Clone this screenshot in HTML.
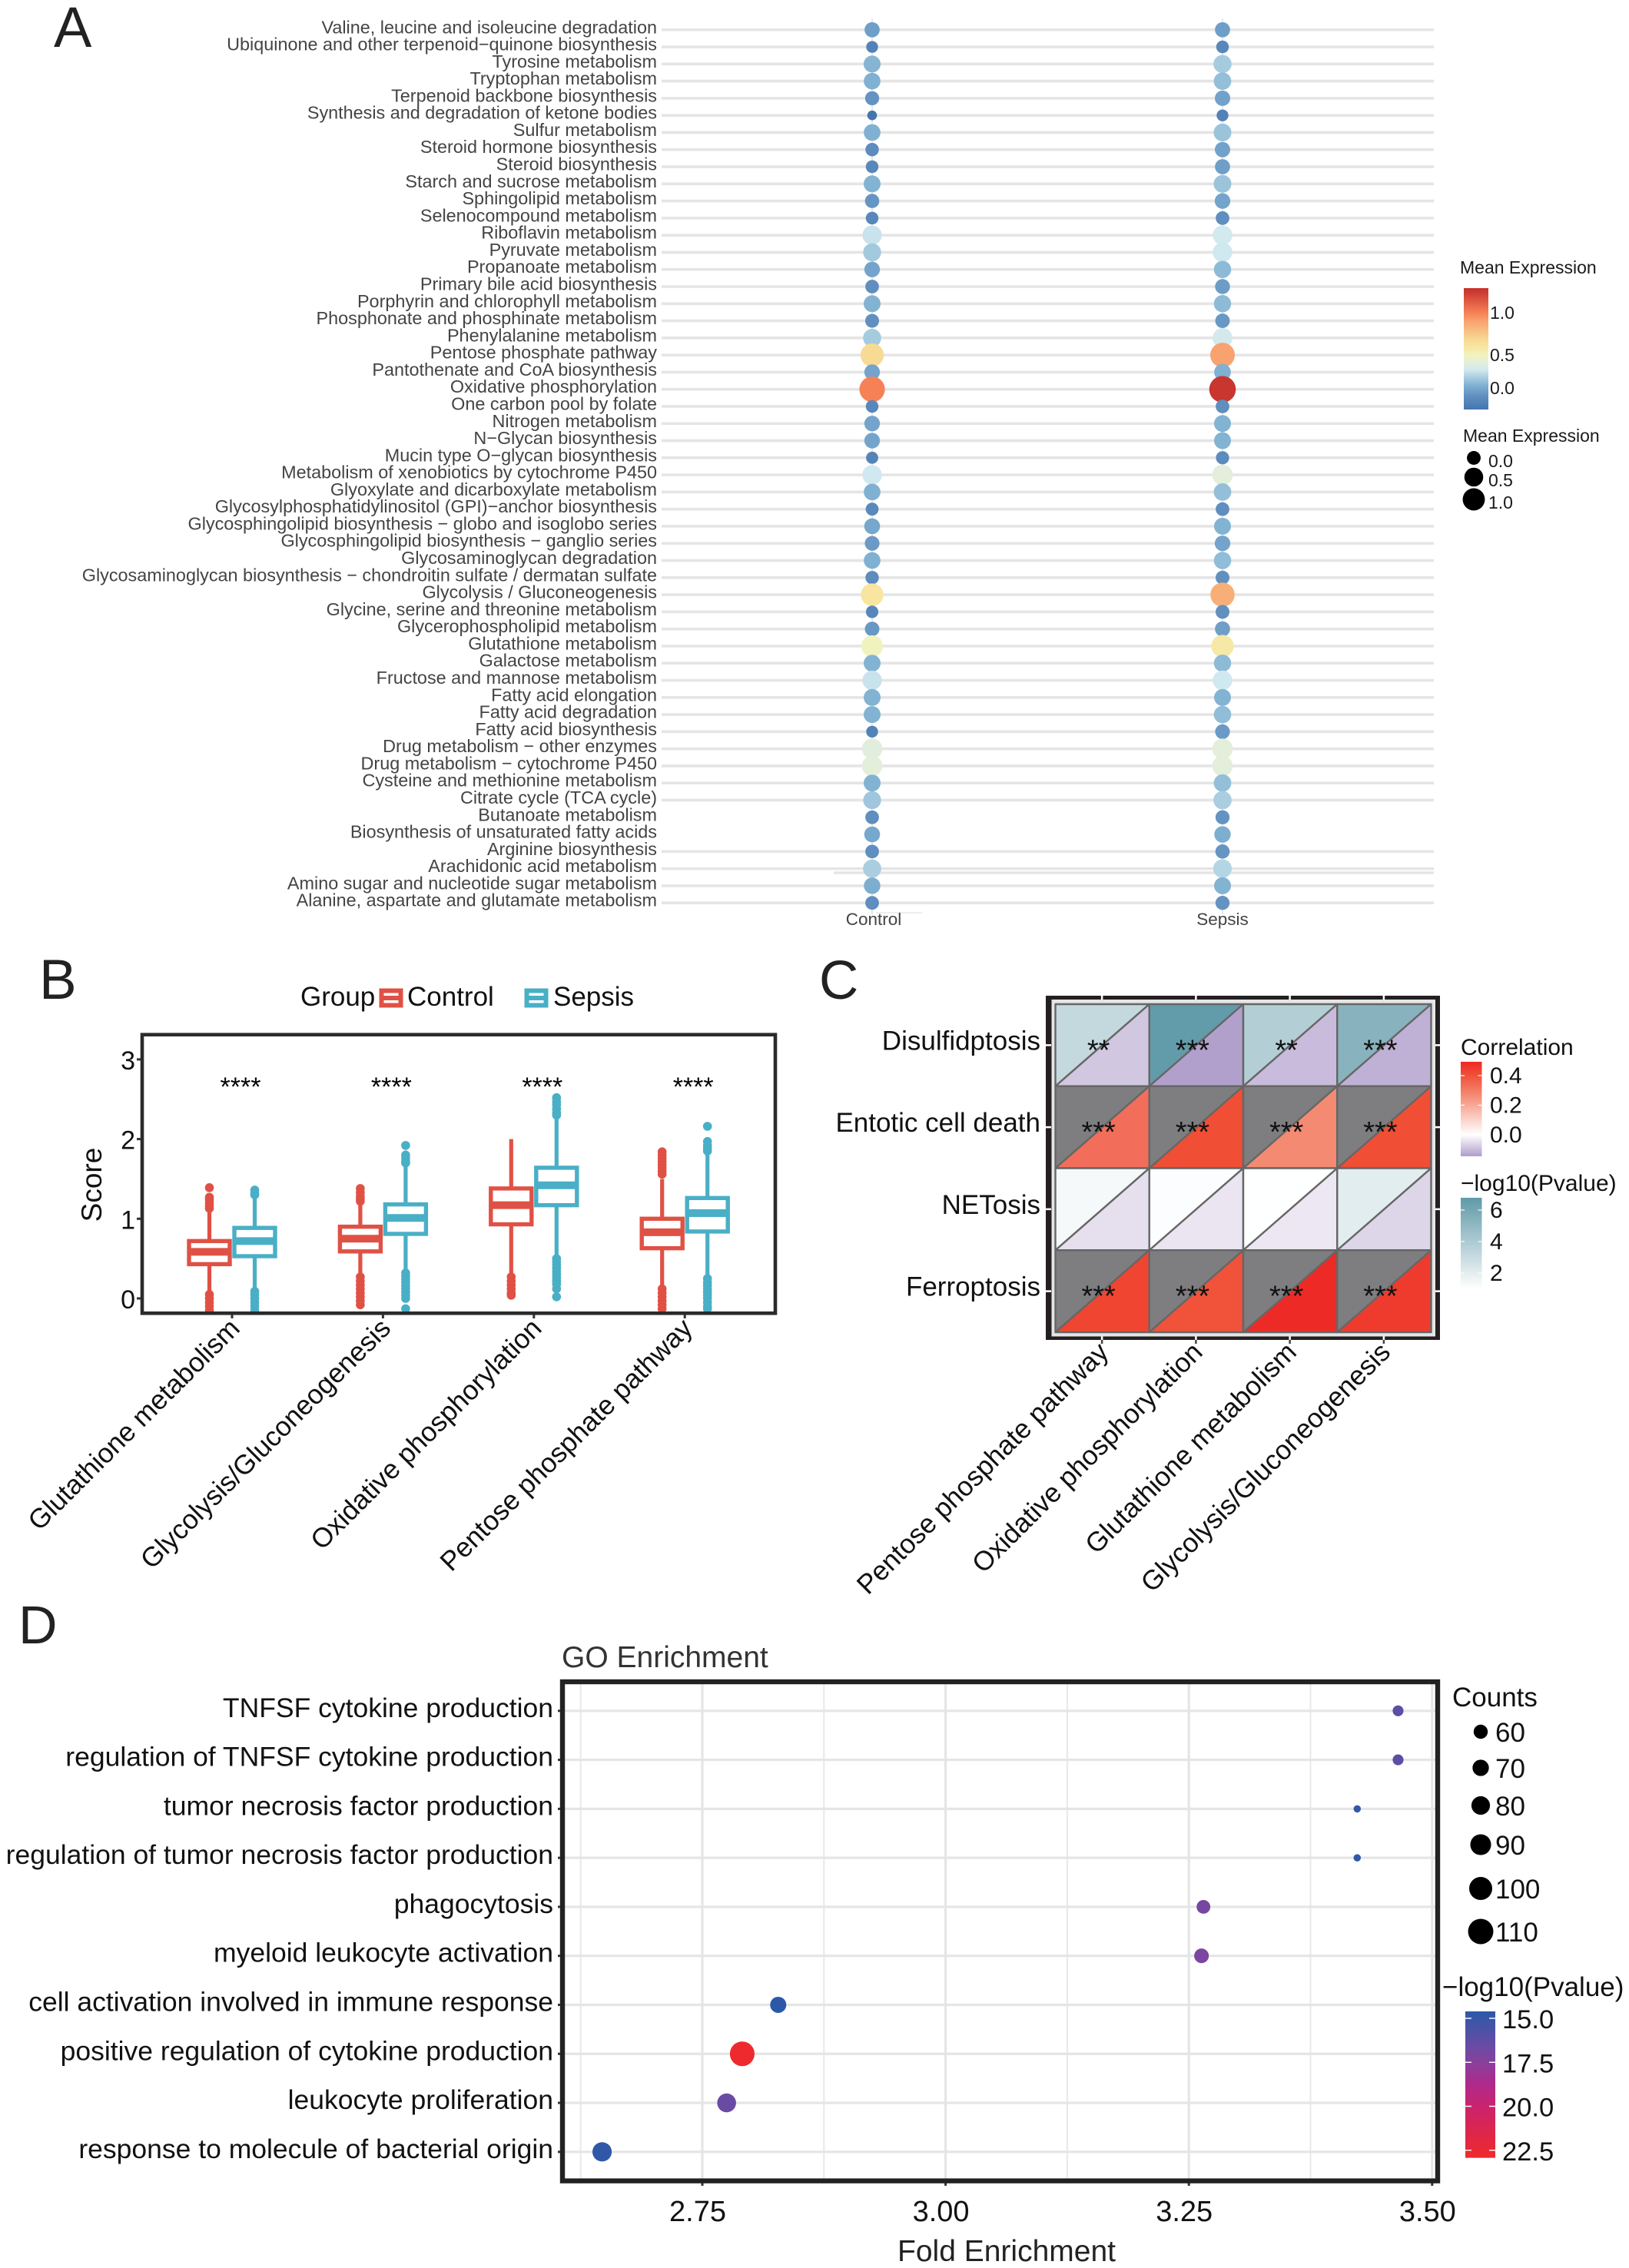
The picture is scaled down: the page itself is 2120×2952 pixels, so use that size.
<!DOCTYPE html>
<html lang="en">
<head>
<meta charset="utf-8">
<title>Metabolic pathway expression figure</title>
<style>
html,body{margin:0;padding:0;background:#fff;}
svg{display:block;}
text{font-family:"Liberation Sans",sans-serif;}
</style>
</head>
<body>
<svg id="fig" xmlns="http://www.w3.org/2000/svg" width="2120" height="2952" viewBox="0 0 2120 2952">
  <rect x="0" y="0" width="2120" height="2952" fill="#fff"/>
  <defs>
    <clipPath id="clipB"><rect x="185" y="1347" width="824" height="362"/></clipPath>
  </defs>
  <g id="panelA">
    <text x="70" y="61" font-size="74" fill="#222">A</text>
    <text x="1900" y="356" font-size="23" fill="#1a1a1a">Mean Expression</text>
    <text x="1904" y="575" font-size="23" fill="#1a1a1a">Mean Expression</text>
  </g>
  <g id="panelB">
    <text x="51" y="1300" font-size="73" fill="#222">B</text>
    <text x="391" y="1309" font-size="35" fill="#111">Group</text>
    <rect x="496.5" y="1289.5" width="25" height="19" fill="#fff" stroke="#e05145" stroke-width="6"/>
    <line x1="496" y1="1299" x2="522" y2="1299" stroke="#e05145" stroke-width="6"/>
    <text x="530" y="1309" font-size="35" fill="#111">Control</text>
    <rect x="685.5" y="1289.5" width="25" height="19" fill="#fff" stroke="#49afc6" stroke-width="6"/>
    <line x1="685" y1="1299" x2="711" y2="1299" stroke="#49afc6" stroke-width="6"/>
    <text x="720" y="1309" font-size="35" fill="#111">Sepsis</text>
    <text transform="translate(132,1542) rotate(-90)" text-anchor="middle" font-size="37" fill="#111">Score</text>
  </g>
  <g id="panelC">
    <text x="1066" y="1300" font-size="71" fill="#222">C</text>
    <text x="1901" y="1373" font-size="30" fill="#111">Correlation</text>
    <text x="1901" y="1550" font-size="30" fill="#111">&#8722;log10(Pvalue)</text>
  </g>
  <g id="panelD">
    <text x="24" y="2139" font-size="70" fill="#222">D</text>
    <text x="731" y="2170" font-size="39" fill="#333">GO Enrichment</text>
    <text x="1310" y="2943" text-anchor="middle" font-size="39" fill="#222">Fold Enrichment</text>
    <text x="1890" y="2221" font-size="35" fill="#111">Counts</text>
    <text x="1877" y="2598" font-size="35" fill="#111">&#8722;log10(Pvalue)</text>
  </g>
</svg>
<script>
/* ---------- Panel A data ---------- */
var pathways = ["Valine, leucine and isoleucine degradation","Ubiquinone and other terpenoid\u2212quinone biosynthesis","Tyrosine metabolism","Tryptophan metabolism","Terpenoid backbone biosynthesis","Synthesis and degradation of ketone bodies","Sulfur metabolism","Steroid hormone biosynthesis","Steroid biosynthesis","Starch and sucrose metabolism","Sphingolipid metabolism","Selenocompound metabolism","Riboflavin metabolism","Pyruvate metabolism","Propanoate metabolism","Primary bile acid biosynthesis","Porphyrin and chlorophyll metabolism","Phosphonate and phosphinate metabolism","Phenylalanine metabolism","Pentose phosphate pathway","Pantothenate and CoA biosynthesis","Oxidative phosphorylation","One carbon pool by folate","Nitrogen metabolism","N\u2212Glycan biosynthesis","Mucin type O\u2212glycan biosynthesis","Metabolism of xenobiotics by cytochrome P450","Glyoxylate and dicarboxylate metabolism","Glycosylphosphatidylinositol (GPI)\u2212anchor biosynthesis","Glycosphingolipid biosynthesis \u2212 globo and isoglobo series","Glycosphingolipid biosynthesis \u2212 ganglio series","Glycosaminoglycan degradation","Glycosaminoglycan biosynthesis \u2212 chondroitin sulfate / dermatan sulfate","Glycolysis / Gluconeogenesis","Glycine, serine and threonine metabolism","Glycerophospholipid metabolism","Glutathione metabolism","Galactose metabolism","Fructose and mannose metabolism","Fatty acid elongation","Fatty acid degradation","Fatty acid biosynthesis","Drug metabolism \u2212 other enzymes","Drug metabolism \u2212 cytochrome P450","Cysteine and methionine metabolism","Citrate cycle (TCA cycle)","Butanoate metabolism","Biosynthesis of unsaturated fatty acids","Arginine biosynthesis","Arachidonic acid metabolism","Amino sugar and nucleotide sugar metabolism","Alanine, aspartate and glutamate metabolism"];
var controlExpression = [-0.03,-0.17,0.06,0.04,-0.08,-0.25,0.04,-0.11,-0.14,0.05,-0.07,-0.14,0.25,0.14,-0.01,-0.1,0.05,-0.09,0.15,0.68,-0.01,1.0,-0.14,-0.01,-0.01,-0.16,0.27,0.04,-0.13,0,-0.05,0.04,-0.11,0.6,-0.15,-0.06,0.5,0.05,0.25,0.05,0.05,-0.17,0.37,0.38,0.05,0.13,-0.1,0,-0.1,0.16,0.03,-0.1];
var sepsisExpression = [-0.03,-0.14,0.15,0.1,-0.02,-0.17,0.12,-0.02,-0.03,0.12,-0.01,-0.1,0.28,0.27,0.08,-0.04,0.08,-0.06,0.29,0.9,0.04,1.25,-0.1,0.05,0.05,-0.12,0.38,0.1,-0.1,0.05,-0.01,0.09,-0.09,0.85,-0.09,-0.03,0.58,0.08,0.27,0.05,0.09,-0.05,0.38,0.38,0.1,0.16,-0.08,0.03,-0.07,0.19,0.05,-0.08];
var expressionGroups = ["Control","Sepsis"];
var pathwaysWithoutGuide = ["Butanoate metabolism","Biosynthesis of unsaturated fatty acids"];
var expressionColorTicks = [1.0,0.5,0.0];
var expressionSizeTicks = [0.0,0.5,1.0];

/* ---------- Panel B data ---------- */
var boxCategories = ["Glutathione metabolism","Glycolysis/Gluconeogenesis","Oxidative phosphorylation","Pentose phosphate pathway"];
var scoreTicks = [0,1,2,3];
var significanceLabels = ["****","****","****","****"];
var controlQ1 = [0.43,0.59,0.93,0.63];
var controlMedian = [0.585,0.75,1.17,0.83];
var controlQ3 = [0.72,0.9,1.38,1.0];
var controlWhiskerLow = [0.06,0.2,0.3,0.15];
var controlWhiskerHigh = [1.12,1.2,2.0,1.5];
var controlOutliers = [
  [1.39,1.27,1.24,1.2,1.16,1.13,0.05,0,-0.05,-0.1,-0.15],
  [1.38,1.33,1.28,1.25,1.22,0.27,0.22,0.17,0.12,0.07,0.02,-0.03,-0.08],
  [0.27,0.22,0.17,0.12,0.07,0.04],
  [1.84,1.8,1.76,1.72,1.68,1.64,1.6,1.56,0.12,0.07,0.02,-0.03,-0.08,-0.13]
];
var sepsisQ1 = [0.53,0.81,1.17,0.84];
var sepsisMedian = [0.72,1.01,1.42,1.07];
var sepsisQ3 = [0.885,1.18,1.64,1.26];
var sepsisWhiskerLow = [0.1,0.33,0.55,0.25];
var sepsisWhiskerHigh = [1.25,1.7,2.28,1.9];
var sepsisOutliers = [
  [1.36,1.32,1.3,0.09,0.05,0,-0.05,-0.1,-0.15],
  [1.92,1.8,1.76,1.72,1.7,0.32,0.28,0.24,0.2,0.16,0.12,0.08,0.04,0,-0.13],
  [2.52,2.47,2.43,2.38,2.33,2.3,0.5,0.46,0.42,0.38,0.34,0.3,0.26,0.22,0.18,0.12,0.02],
  [2.16,1.97,1.92,1.88,1.85,0.25,0.2,0.16,0.12,0.08,0.04,0,-0.05,-0.1,-0.13]
];

/* ---------- Panel C data ---------- */
var cellDeathTypes = ["Disulfidptosis","Entotic cell death","NETosis","Ferroptosis"];
var metabolicColumns = ["Pentose phosphate pathway","Oxidative phosphorylation","Glutathione metabolism","Glycolysis/Gluconeogenesis"];
var correlationRow1 = [-0.083,-0.14,-0.1,-0.116];
var correlationRow2 = [0.33,0.41,0.27,0.41];
var correlationRow3 = [-0.046,-0.038,-0.035,-0.062];
var correlationRow4 = [0.43,0.4,0.49,0.453];
var pvalueRow1 = [3.1,6.7,3.68,5.3];
var pvalueRow2 = [null,null,null,null];
var pvalueRow3 = [1.2,0.95,0.87,1.93];
var pvalueRow4 = [null,null,null,null];
var starRow1 = ["**","***","**","***"];
var starRow2 = ["***","***","***","***"];
var starRow3 = ["","","",""];
var starRow4 = ["***","***","***","***"];
var correlationTicks = [0.4,0.2,0.0];
var pvalueTicks = [6,4,2];

/* ---------- Panel D data ---------- */
var goTerms = ["TNFSF cytokine production","regulation of TNFSF cytokine production","tumor necrosis factor production","regulation of tumor necrosis factor production","phagocytosis","myeloid leukocyte activation","cell activation involved in immune response","positive regulation of cytokine production","leukocyte proliferation","response to molecule of bacterial origin"];
var foldEnrichment = [3.465,3.465,3.423,3.423,3.265,3.263,2.828,2.791,2.775,2.647];
var goCounts = [48,48,32,32,61,65,72,110,84,86];
var goLogP = [16.1,16.1,14.8,14.8,17.0,17.1,14.6,22.9,16.6,14.8];
var foldTicks = [2.75,3.0,3.25,3.5];
var foldMinorTicks = [2.625,2.875,3.125,3.375];
var countLegendValues = [60,70,80,90,100,110];
var logPLegendTicks = [15.0,17.5,20.0,22.5];

/* ---------- helpers ---------- */
var NS = "http://www.w3.org/2000/svg";
function add(parent, tag, attrs, text) {
  var el = document.createElementNS(NS, tag);
  for (var k in attrs) { el.setAttribute(k, attrs[k]); }
  if (text !== undefined) { el.textContent = text; }
  parent.appendChild(el);
  return el;
}
function hexRgb(h) { return [parseInt(h.substr(1,2),16),parseInt(h.substr(3,2),16),parseInt(h.substr(5,2),16)]; }
function rampColor(stops, v) {
  if (v <= stops[0][0]) { return stops[0][1]; }
  for (var i = 1; i < stops.length; i++) {
    if (v <= stops[i][0]) {
      var t = (v - stops[i-1][0]) / (stops[i][0] - stops[i-1][0]);
      var a = hexRgb(stops[i-1][1]), b = hexRgb(stops[i][1]);
      return "rgb(" + Math.round(a[0]+(b[0]-a[0])*t) + "," + Math.round(a[1]+(b[1]-a[1])*t) + "," + Math.round(a[2]+(b[2]-a[2])*t) + ")";
    }
  }
  return stops[stops.length-1][1];
}
function rampNumber(stops, v) {
  if (v <= stops[0][0]) { return stops[0][1]; }
  for (var i = 1; i < stops.length; i++) {
    if (v <= stops[i][0]) {
      var t = (v - stops[i-1][0]) / (stops[i][0] - stops[i-1][0]);
      return stops[i-1][1] + (stops[i][1] - stops[i-1][1]) * t;
    }
  }
  return stops[stops.length-1][1];
}
function gradient(id, stops, offsetOf) {
  var defs = document.querySelector("#fig defs");
  var g = add(defs, "linearGradient", {id:id, x1:0, y1:0, x2:0, y2:1});
  stops.forEach(function (s) { add(g, "stop", {offset: offsetOf(s[0]), "stop-color": s[1]}); });
}

/* ---------- Panel A ---------- */
(function () {
  var root = document.getElementById("panelA");
  var exprColors = [[-0.25,"#4575b1"],[-0.1,"#5f8ebf"],[0.05,"#82b3d3"],[0.15,"#a6cbdf"],[0.27,"#d0e8ef"],[0.38,"#e3efdb"],[0.5,"#f1f3bf"],[0.6,"#f7e5a0"],[0.68,"#f7da94"],[0.9,"#f8a26f"],[1.0,"#f68157"],[1.25,"#c9352f"]];
  var exprRadii = [[-0.25,6.3],[-0.12,8.6],[0.05,11],[0.25,12.6],[0.65,15],[0.9,16],[1.0,16.6],[1.25,17.3]];
  function yRow(i) { return 38.75 + i * 22.283; }
  function xGroup(i) { return 1135 + i * 456; }
  function legendY(v) { return rampNumber([[-0.25,533],[0,505],[0.5,462],[1.0,407],[1.28,375]], v); }

  for (var gi = 0; gi < expressionGroups.length; gi++) {
    var axisLine = add(root, "line", {x1:xGroup(gi), y1:24, x2:xGroup(gi), y2:1190, stroke:"#e3e8ee", "stroke-width":2});
    
    
  }
  pathways.forEach(function (name, i) {
    if (pathwaysWithoutGuide.indexOf(name) < 0) {
      var guide = add(root, "line", {x1:861, y1:yRow(i), x2:1866, y2:yRow(i), stroke:"#e5e5e5", "stroke-width":3.6});
      
      
    }
    var label = add(root, "text", {x:855, y:yRow(i)+4.5, "text-anchor":"end", "font-size":23.4, fill:"#444"}, name);
    
    
  });
  var stray = add(root, "line", {x1:1085, y1:1136, x2:1866, y2:1136, stroke:"#e5e5e5", "stroke-width":3.6});
  
  
  var stray2 = add(root, "line", {x1:1140, y1:1188, x2:1200, y2:1188, stroke:"#e8e8e8", "stroke-width":1.5});
  
  

  [controlExpression, sepsisExpression].forEach(function (series, gi) {
    series.forEach(function (v, i) {
      var dot = add(root, "circle", {cx:xGroup(gi), cy:yRow(i), r:rampNumber(exprRadii, v), fill:rampColor(exprColors, v)});
      
      
    });
    var gLabel = add(root, "text", {x:xGroup(gi)+(gi?0:2), y:1204, "text-anchor":"middle", "font-size":22.5, fill:"#444"}, expressionGroups[gi]);
    
    
  });

  gradient("gradExpr", exprColors.slice().reverse(), function (v) { return (legendY(v) - 375) / 158; });
  var bar = add(root, "rect", {x:1905, y:375, width:32, height:158, fill:"url(#gradExpr)"});
  
  
  expressionColorTicks.forEach(function (t) {
    var tl = add(root, "text", {x:1939, y:legendY(t)+8, "font-size":23, fill:"#1a1a1a"}, t.toFixed(1));
    
    
  });
  expressionSizeTicks.forEach(function (t) {
    var yy = rampNumber([[0,596],[0.5,621],[1.0,650]], t);
    var c = add(root, "circle", {cx:1918, cy:yy, r:rampNumber(exprRadii, t)*0.87, fill:"#000"});
    
    
    var tx = add(root, "text", {x:1937, y:yy+12, "font-size":23, fill:"#1a1a1a"}, t.toFixed(1));
    
    
  });
})();

/* ---------- Panel B ---------- */
(function () {
  var root = document.getElementById("panelB");
  function y(v) { return 1690 - v * 103.7; }
  function x(i) { return 302 + i * 196.4; }
  var halfOffset = 29.5, boxW = 53;
  var plot = add(root, "g", {"clip-path":"url(#clipB)"});
  
  
  function drawBoxes(cx, color, q1, med, q3, lo, hi, outs, nm) {
    var w = add(plot, "line", {x1:cx, y1:y(hi), x2:cx, y2:y(lo), stroke:color, "stroke-width":5.2});
    
    
    outs.forEach(function (o) {
      var p = add(plot, "circle", {cx:cx, cy:y(o), r:5.8, fill:color});
      
      
    });
    var b = add(plot, "rect", {x:cx-boxW/2, y:y(q3), width:boxW, height:y(q1)-y(q3), fill:"#fff", stroke:color, "stroke-width":5.4});
    
    
    var m = add(plot, "line", {x1:cx-boxW/2, y1:y(med), x2:cx+boxW/2, y2:y(med), stroke:color, "stroke-width":10});
    
    
  }
  boxCategories.forEach(function (cat, i) {
    drawBoxes(x(i)-halfOffset, "#e05145", controlQ1[i], controlMedian[i], controlQ3[i], controlWhiskerLow[i], controlWhiskerHigh[i], controlOutliers[i], "control");
    drawBoxes(x(i)+halfOffset, "#49afc6", sepsisQ1[i], sepsisMedian[i], sepsisQ3[i], sepsisWhiskerLow[i], sepsisWhiskerHigh[i], sepsisOutliers[i], "sepsis");
    var star = add(root, "text", {x:x(i)+11, y:1426, "text-anchor":"middle", "font-size":34, fill:"#000"}, significanceLabels[i]);
    
    
    var tick = add(root, "line", {x1:x(i), y1:1709, x2:x(i), y2:1716, stroke:"#333", "stroke-width":3});
    
    
    var bx = x(i)+12, by = 1731;
    var lab = add(root, "text", {transform:"translate("+bx+","+by+") rotate(-45)", "text-anchor":"end", "font-size":35.4, fill:"#111"}, cat);
    
    
  });
  scoreTicks.forEach(function (t) {
    var tk = add(root, "line", {x1:178, y1:y(t), x2:185, y2:y(t), stroke:"#333", "stroke-width":3});
    
    
    var tl = add(root, "text", {x:176, y:y(t)+13, "text-anchor":"end", "font-size":34, fill:"#111"}, String(t));
    
    
  });
  var frame = add(root, "rect", {x:185, y:1346.7, width:824, height:362.6, fill:"none", stroke:"#2b2b2b", "stroke-width":4.6});
  
  
})();

/* ---------- Panel C ---------- */
(function () {
  var root = document.getElementById("panelC");
  var corrMatrix = [correlationRow1, correlationRow2, correlationRow3, correlationRow4];
  var pvalMatrix = [pvalueRow1, pvalueRow2, pvalueRow3, pvalueRow4];
  var starMatrix = [starRow1, starRow2, starRow3, starRow4];
  var corrStops = [[-0.14,"#b2a0cc"],[0,"#ffffff"],[0.27,"#f48a72"],[0.33,"#f26e5a"],[0.41,"#f04e35"],[0.49,"#ee2a26"]];
  var pStops = [[0.85,"#ffffff"],[6.7,"#629ba9"]];
  var naColor = "#7e7e80";
  var x0 = 1373.5, y0 = 1307, cw = 122.25, ch = 106.75;
  function xCol(i) { return x0 + i * cw; }
  function yRow(i) { return y0 + i * ch; }
  function corrY(v) { return 1477 - v * 192.5; }
  function pY(v) { return 1657 - (v - 2) * 20.5; }

  var outer = add(root, "rect", {x:1361, y:1296, width:513, height:448, fill:"#231f20"});
  
  
  var inner = add(root, "rect", {x:1368.5, y:1301, width:499.5, height:438.5, fill:"#e5e5e5"});
  
  

  cellDeathTypes.forEach(function (rowName, r) {
    metabolicColumns.forEach(function (colName, c) {
      var xa = xCol(c), xb = xCol(c+1), ya = yRow(r), yb = yRow(r+1);
      var pv = pvalMatrix[r][c];
      var up = add(root, "polygon", {points:[xa,ya,xb,ya,xa,yb].join(","), fill: pv === null ? naColor : rampColor(pStops, pv), stroke:"#666", "stroke-width":2.4, "stroke-linejoin":"round"});
      
      
      var low = add(root, "polygon", {points:[xb,ya,xb,yb,xa,yb].join(","), fill: rampColor(corrStops, corrMatrix[r][c]), stroke:"#666", "stroke-width":2.4, "stroke-linejoin":"round"});
      
      
      if (starMatrix[r][c]) {
        var st = add(root, "text", {x:(xa+xb)/2-5, y:(ya+yb)/2+19, "text-anchor":"middle", "font-size":38, fill:"#111"}, starMatrix[r][c]);
        
        
      }
    });
    var ym = (yRow(r)+yRow(r+1))/2;
    var lab = add(root, "text", {x:1354, y:ym+6, "text-anchor":"end", "font-size":35, fill:"#111"}, rowName);
    
    
    [[1355,1368],[1868,1874]].forEach(function (s) {
      var t = add(root, "line", {x1:s[0], y1:ym, x2:s[1], y2:ym, stroke:"#fff", "stroke-width":2.5});
      
      
    });
  });
  metabolicColumns.forEach(function (colName, c) {
    var xm = (xCol(c)+xCol(c+1))/2 - 0.5;
    [[1296,1301],[1739.5,1744]].forEach(function (s) {
      var t = add(root, "line", {x1:xm, y1:s[0], x2:xm, y2:s[1], stroke:"#fff", "stroke-width":2.5});
      
      
    });
    var dk = add(root, "line", {x1:xm, y1:1744, x2:xm, y2:1749, stroke:"#444", "stroke-width":2.5});
    
    
    var lab = add(root, "text", {transform:"translate("+(xm+10.5)+",1762) rotate(-45)", "text-anchor":"end", "font-size":35.3, fill:"#111"}, colName);
    
    
  });

  gradient("gradCorr", corrStops.slice().reverse(), function (v) { return (corrY(v) - 1382) / 123; });
  var cb = add(root, "rect", {x:1901, y:1382, width:27.5, height:123, fill:"url(#gradCorr)"});
  
  
  correlationTicks.forEach(function (t) {
    [[1901,1906],[1923.5,1928.5]].forEach(function (s) {
      var m = add(root, "line", {x1:s[0], y1:corrY(t), x2:s[1], y2:corrY(t), stroke:"#fff", "stroke-width":1.2});
      
      
    });
    var l = add(root, "text", {x:1939, y:corrY(t)+10, "font-size":30, fill:"#111"}, t.toFixed(1));
    
    
  });
  gradient("gradP", pStops.slice().reverse(), function (v) { return (pY(v) - 1559) / 119; });
  var pb = add(root, "rect", {x:1901, y:1559, width:27.5, height:119, fill:"url(#gradP)"});
  
  
  pvalueTicks.forEach(function (t) {
    [[1901,1906],[1923.5,1928.5]].forEach(function (s) {
      var m = add(root, "line", {x1:s[0], y1:pY(t), x2:s[1], y2:pY(t), stroke:"#fff", "stroke-width":1.2});
      
      
    });
    var l = add(root, "text", {x:1939, y:pY(t)+10, "font-size":30, fill:"#111"}, String(t));
    
    
  });
})();

/* ---------- Panel D ---------- */
(function () {
  var root = document.getElementById("panelD");
  var logPStops = [[14.6,"#2b59a8"],[16.6,"#6a4ba4"],[17.6,"#8b3f9b"],[18.7,"#ae2a8c"],[20.3,"#cf2366"],[22.9,"#ee2a2c"]];
  function x(v) { return 914 + (v - 2.75) * 1266.4; }
  function y(i) { return 2226.8 + i * 63.78; }
  function radius(c) { return 8.8 + (c - 60) * 0.145; }
  function logPY(v) { return 2627 + (v - 15) * 22.9; }

  foldMinorTicks.forEach(function (t) {
    var g = add(root, "line", {x1:x(t), y1:2189, x2:x(t), y2:2838, stroke:"#e8e8e8", "stroke-width":2});
    
    
  });
  foldTicks.forEach(function (t) {
    var g = add(root, "line", {x1:x(t), y1:2189, x2:x(t), y2:2838, stroke:"#e5e5e5", "stroke-width":3.2});
    
    
    var tk = add(root, "line", {x1:x(t), y1:2838, x2:x(t), y2:2845, stroke:"#333", "stroke-width":3});
    
    
    var l = add(root, "text", {x:x(t)-6, y:2891, "text-anchor":"middle", "font-size":38, fill:"#111"}, t.toFixed(2));
    
    
  });
  goTerms.forEach(function (term, i) {
    var g = add(root, "line", {x1:732, y1:y(i), x2:1871, y2:y(i), stroke:"#e5e5e5", "stroke-width":3.2});
    
    
    var tk = add(root, "line", {x1:726, y1:y(i), x2:732, y2:y(i), stroke:"#333", "stroke-width":3});
    
    
    var l = add(root, "text", {x:720, y:y(i)+8, "text-anchor":"end", "font-size":35.5, fill:"#111"}, term);
    
    
  });
  goTerms.forEach(function (term, i) {
    var d = add(root, "circle", {cx:x(foldEnrichment[i]), cy:y(i), r:radius(goCounts[i]), fill:rampColor(logPStops, goLogP[i])});
    
    
  });
  var frame = add(root, "rect", {x:732, y:2189, width:1139, height:649.6, fill:"none", stroke:"#222", "stroke-width":6.4});
  
  

  var legendRows = [2254,2301,2350,2401,2458,2514];
  countLegendValues.forEach(function (c, i) {
    var d = add(root, "circle", {cx:1927, cy:legendRows[i], r:radius(c)+0.4, fill:"#000"});
    
    
    var l = add(root, "text", {x:1946, y:legendRows[i]+13, "font-size":35, fill:"#111"}, String(c));
    
    
  });
  gradient("gradLogP", logPStops, function (v) { return (logPY(v) - 2618) / 190.6; });
  var bar = add(root, "rect", {x:1907, y:2618, width:39, height:190.6, fill:"url(#gradLogP)"});
  
  
  logPLegendTicks.forEach(function (t) {
    [[1907,1915],[1938,1946]].forEach(function (s) {
      var m = add(root, "line", {x1:s[0], y1:logPY(t), x2:s[1], y2:logPY(t), stroke:"#fff", "stroke-width":1.4});
      
      
    });
    var l = add(root, "text", {x:1955, y:logPY(t)+13, "font-size":34.5, fill:"#111"}, t.toFixed(1));
    
    
  });
})();
</script>
</body>
</html>
